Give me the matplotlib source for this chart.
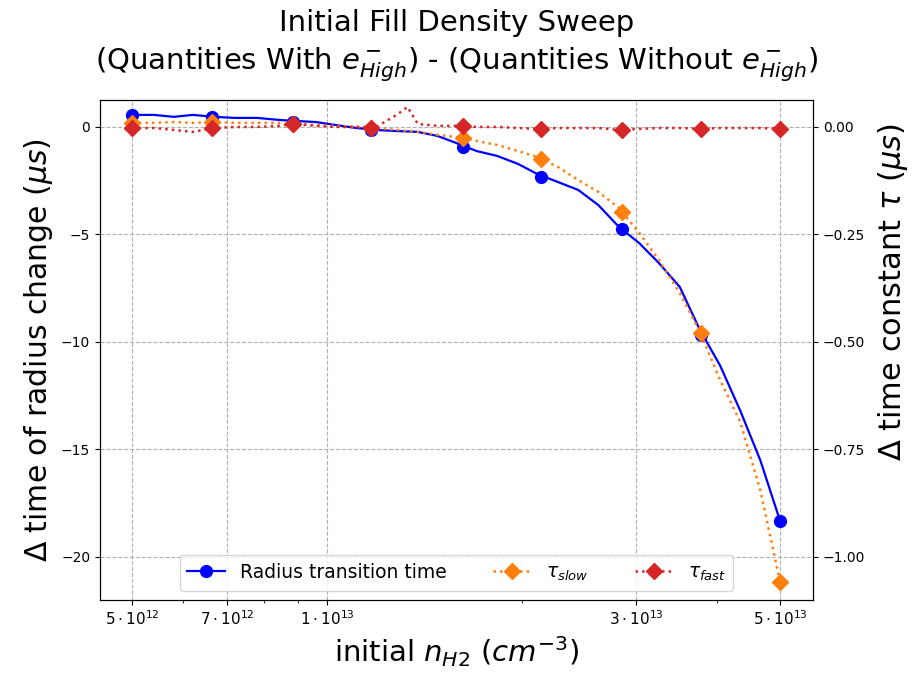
import matplotlib
matplotlib.use("Agg")
import matplotlib.pyplot as plt
from matplotlib.lines import Line2D
from matplotlib.ticker import FixedLocator, NullFormatter

# density points where the markers sit (cm^-3)
n_pts = [5.0e12, 6.65e12, 8.85e12, 1.17e13, 1.62e13, 2.14e13, 2.85e13, 3.78e13, 5.0e13]
radius_pts = [0.56, 0.47, 0.25, -0.14, -0.93, -2.33, -4.74, -9.67, -18.33]
tau_slow_pts = [0.0095, 0.0115, 0.006, -0.0025, -0.0255, -0.0745, -0.1975, -0.479, -1.058]
tau_fast_pts = [-0.0025, -0.0025, 0.007, -0.0025, 0.0025, -0.0045, -0.007, -0.0045, -0.0045]

# finer sweep used for the connecting curves
n_fine = [5.0e12, 5.4e12, 5.8e12, 6.2e12, 6.7e12, 7.2e12, 7.8e12, 8.4e12, 8.9e12,
          9.6e12, 1.03e13, 1.11e13, 1.19e13, 1.28e13, 1.33e13, 1.38e13, 1.48e13,
          1.58e13, 1.70e13, 1.83e13, 1.97e13, 2.11e13, 2.27e13, 2.44e13, 2.62e13,
          2.82e13, 3.03e13, 3.25e13, 3.50e13, 3.76e13, 4.04e13, 4.34e13, 4.66e13, 5.0e13]
radius_fine = [0.56, 0.56, 0.47, 0.56, 0.47, 0.42, 0.42, 0.33, 0.28,
               0.23, 0.09, -0.05, -0.14, -0.19, -0.21, -0.23, -0.42,
               -0.74, -1.12, -1.35, -1.72, -2.19, -2.56, -2.93, -3.63,
               -4.65, -5.40, -6.33, -7.44, -9.44, -11.1, -13.2, -15.5, -18.33]
tau_slow_fine = [0.0095, 0.0095, 0.0115, 0.0095, 0.0115, 0.0095, 0.0095, 0.0095, 0.007,
                 0.0045, 0.0025, 0.0, -0.0025, -0.007, -0.0095, -0.0115, -0.0185,
                 -0.0235, -0.0325, -0.042, -0.056, -0.07, -0.093, -0.1235, -0.151,
                 -0.1885, -0.2465, -0.3095, -0.386, -0.4765, -0.5885, -0.686, -0.845, -1.058]
tau_fast_fine = [-0.0025, -0.0025, -0.007, -0.0115, -0.0025, 0.0, 0.0, 0.0025, 0.007,
                 0.0025, 0.0, 0.0, 0.0, 0.028, 0.0465, 0.007, 0.0025,
                 0.0025, 0.0, 0.0, -0.0025, -0.0045, -0.0025, -0.0025, -0.0025,
                 -0.007, -0.0045, -0.0025, -0.0025, -0.0045, -0.0025, -0.0025, -0.0025, -0.0045]

major_ticks = [5e12, 7e12, 1e13, 3e13, 5e13]
major_labels = [r'$5\cdot10^{12}$', r'$7\cdot10^{12}$', r'$1\cdot10^{13}$',
                r'$3\cdot10^{13}$', r'$5\cdot10^{13}$']
minor_ticks = [6e12, 8e12, 9e12, 2e13, 4e13]

fig = plt.figure(figsize=(9.13, 6.73), dpi=100)
ax = fig.add_axes([0.1095, 0.1085, 0.781, 0.743])
ax2 = ax.twinx()

ax.plot(n_fine, radius_fine, color='blue', lw=1.6)
ax.plot(n_pts, radius_pts, 'o', color='blue', ms=8.5)
ax2.plot(n_fine, tau_slow_fine, ':', color='tab:orange', lw=1.8)
ax2.plot(n_pts, tau_slow_pts, 'D', color='tab:orange', ms=8.5)
ax2.plot(n_fine, tau_fast_fine, ':', color='tab:red', lw=1.8)
ax2.plot(n_pts, tau_fast_pts, 'D', color='tab:red', ms=8.5)

ax.set_xscale('log')
ax.set_xlim(4.46e12, 5.62e13)
ax.xaxis.set_major_locator(FixedLocator(major_ticks))
ax.set_xticklabels(major_labels)
ax.xaxis.set_minor_locator(FixedLocator(minor_ticks))
ax.xaxis.set_minor_formatter(NullFormatter())

ylo, yhi = -22.0, 1.256
ax.set_ylim(ylo, yhi)
ax2.set_ylim(ylo / 20, yhi / 20)
ax.set_yticks([0, -5, -10, -15, -20])
ax2.set_yticks([0.0, -0.25, -0.5, -0.75, -1.0])
ax2.set_yticklabels(['0.00', '\u22120.25', '\u22120.50', '\u22120.75', '\u22121.00'])

ax.tick_params(axis='x', labelsize=11)
ax.tick_params(axis='y', labelsize=10)
ax2.tick_params(labelsize=10)
ax.grid(True, which='major', linestyle='--', color='#b0b0b0', lw=0.8)

ax.set_xlabel(r'initial $n_{H2}$ ($cm^{-3}$)', fontsize=21)
ax.set_ylabel(r'$\Delta$ time of radius change ($\mu s$)', fontsize=21.5)
ax2.set_ylabel(r'$\Delta$ time constant $\tau$ ($\mu s$)', fontsize=22)
ax2.yaxis.set_label_coords(1.088, 0.616)
ax.set_title('Initial Fill Density Sweep\n'
             r'(Quantities With $e^-_{High}$) - (Quantities Without $e^-_{High}$)',
             fontsize=21, pad=22, linespacing=1.38)

handles = [Line2D([], [], color='blue', marker='o', ms=8.5, lw=1.6),
           Line2D([], [], color='tab:orange', marker='D', ms=8.5, ls=':', lw=1.8),
           Line2D([], [], color='tab:red', marker='D', ms=8.5, ls=':', lw=1.8)]
labels = ['Radius transition time', r'$\tau_{slow}$', r'$\tau_{fast}$']
ax2.legend(handles, labels, loc='lower center', ncol=3, fontsize=13.5,
           bbox_to_anchor=(0.5, 0.0), columnspacing=2.5)

fig.savefig('out.png', dpi=100)
